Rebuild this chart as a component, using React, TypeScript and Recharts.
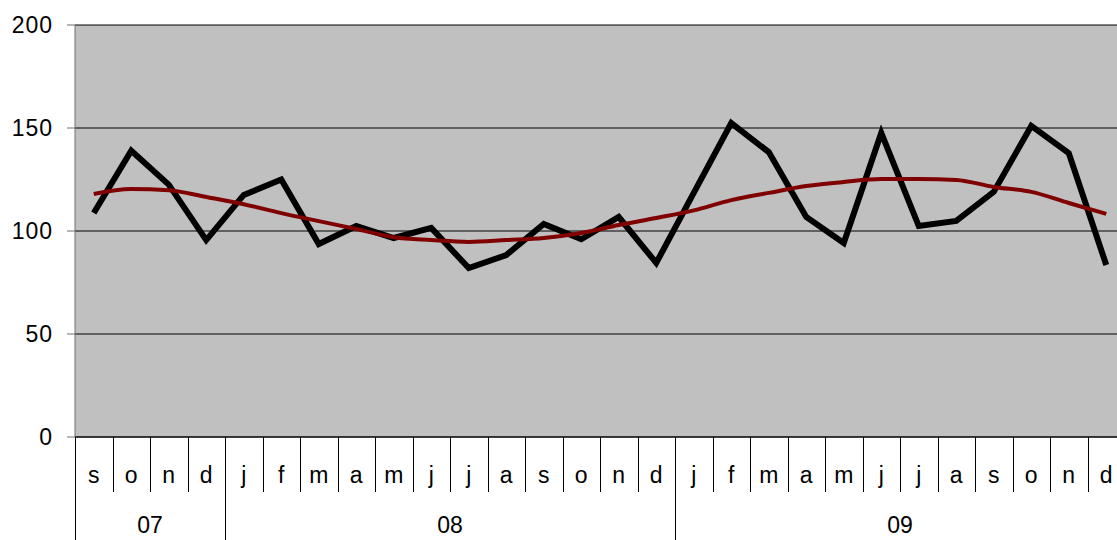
import React from 'react';
import { LineChart, Line, XAxis, YAxis, CartesianGrid } from 'recharts';

const months = ['s', 'o', 'n', 'd', 'j', 'f', 'm', 'a', 'm', 'j', 'j', 'a', 's', 'o', 'n', 'd', 'j', 'f', 'm', 'a', 'm', 'j', 'j', 'a', 's', 'o', 'n', 'd'];
const yearLabels = ['07', '08', '09'];
const yearCounts = [4, 12, 12];
const sales = [108.7, 139, 122.5, 95.6, 117.5, 125, 93.7, 102.4, 96.6, 101.5, 82, 88.3, 103.4, 96, 106.8, 84.5, 118.5, 152.4, 138.3, 106.8, 94.2, 147.6, 102.4, 104.9, 119, 151, 137.8, 83.5];
const trend = [118, 120.4, 119.8, 116.5, 113, 108.7, 104.8, 101, 97, 95.6, 94.7, 95.6, 96.6, 99, 102.9, 106.3, 110, 115, 118.5, 121.8, 123.8, 125.2, 125.2, 124.8, 121.4, 119, 113.6, 108.3];
const yTicks = [0, 50, 100, 150, 200];

const data = months.map((m, i) => ({ idx: i, month: m, sales: sales[i], trend: trend[i] }));

const FONT = "'Liberation Sans', Arial, sans-serif";
const CHART_W = 1140;
const CHART_H = 540;
const PLOT_LEFT = 75;
const PLOT_RIGHT = 1125;
const PLOT_TOP = 25;
const PLOT_BOTTOM = 437;
const BAND = (PLOT_RIGHT - PLOT_LEFT) / months.length;

const yearStarts: number[] = [];
{
  let acc = 0;
  yearCounts.forEach((c) => {
    yearStarts.push(acc);
    acc += c;
  });
}

const MonthTick = (props: any) => {
  const { x, payload } = props;
  const i = Number(payload.value);
  const left = Math.round(x - BAND / 2) + 0.5;
  const k = yearStarts.indexOf(i);
  const isYearStart = k >= 0;
  return (
    <g>
      <line
        x1={left}
        x2={left}
        y1={PLOT_BOTTOM}
        y2={isYearStart ? CHART_H : 492}
        stroke="#000"
        strokeWidth={1}
      />
      <text x={x} y={483} textAnchor="middle" fontSize={23} fontFamily={FONT} fill="#000">
        {months[i]}
      </text>
      {isYearStart && (
        <text
          x={x - BAND / 2 + (yearCounts[k] * BAND) / 2}
          y={533}
          textAnchor="middle"
          fontSize={23}
          fontFamily={FONT}
          fill="#000"
        >
          {yearLabels[k]}
        </text>
      )}
    </g>
  );
};

export default function App() {
  return (
    <div
      style={{
        position: 'absolute',
        left: 0,
        top: 0,
        width: 1117,
        height: 540,
        overflow: 'hidden',
        background: '#fff',
        fontFamily: FONT,
      }}
    >
      <LineChart
        width={CHART_W}
        height={CHART_H}
        data={data}
        margin={{ top: PLOT_TOP, right: CHART_W - PLOT_RIGHT, left: 0, bottom: 0 }}
      >
        <CartesianGrid
          vertical={false}
          horizontal={true}
          stroke="#000"
          fill="#C0C0C0"
          fillOpacity={1}
        />
        <XAxis
          dataKey="idx"
          type="category"
          interval={0}
          padding={{ left: BAND / 2, right: BAND / 2 }}
          height={CHART_H - PLOT_BOTTOM}
          tickLine={false}
          axisLine={{ stroke: '#000' }}
          tick={<MonthTick />}
        />
        <YAxis
          type="number"
          domain={[0, 200]}
          ticks={yTicks}
          interval={0}
          width={PLOT_LEFT}
          tickSize={8}
          tickMargin={14}
          axisLine={{ stroke: '#707070' }}
          tickLine={{ stroke: '#707070' }}
          tick={{ fontSize: 23, fill: '#000', fontFamily: FONT, letterSpacing: 1 }}
        />
        <Line
          type="linear"
          dataKey="sales"
          stroke="#000"
          strokeWidth={6}
          dot={false}
          isAnimationActive={false}
        />
        <Line
          type="monotone"
          dataKey="trend"
          stroke="#800000"
          strokeWidth={4}
          dot={false}
          isAnimationActive={false}
        />
      </LineChart>
    </div>
  );
}
